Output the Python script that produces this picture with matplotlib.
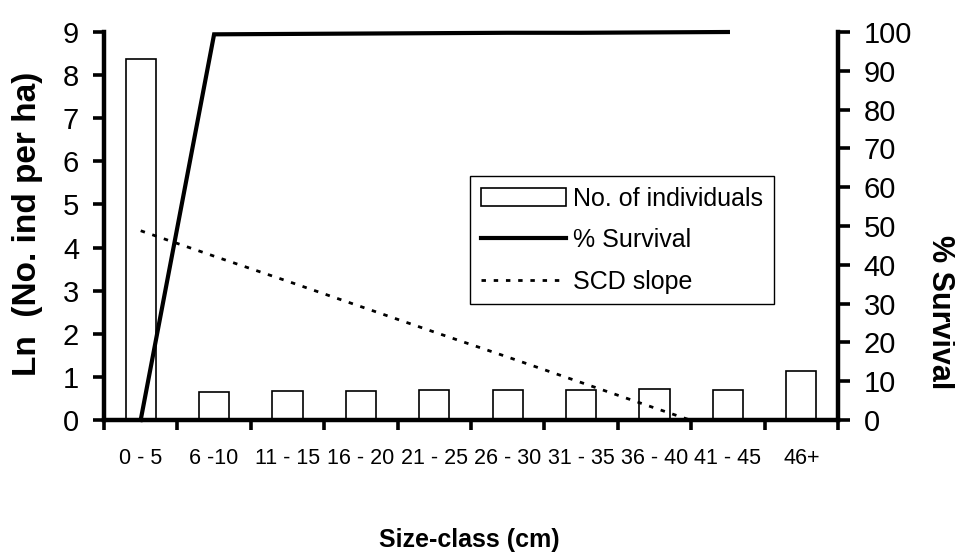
import numpy as np
import matplotlib.pyplot as plt
from matplotlib import rcParams

rcParams['font.family'] = ['Liberation Sans', 'DejaVu Sans']

# Data
size_classes = ["0 - 5", "6 -10", "11 - 15", "16 - 20", "21 - 25",
                "26 - 30", "31 - 35", "36 - 40", "41 - 45", "46+"]
ln_individuals = [8.38, 0.66, 0.67, 0.68, 0.69, 0.70, 0.70, 0.71, 0.70, 1.14]
survival = [0.0, 99.4, 99.5, 99.6, 99.7, 99.8, 99.8, 99.9, 100.0]
scd_slope = [4.39, 3.80, 3.22, 2.63, 2.04, 1.46, 0.87, 0.28, -0.30]

x = np.arange(len(size_classes))

fig = plt.figure(figsize=(9.55, 5.52), dpi=100)
ax = fig.add_axes([104 / 955, 132 / 552, 734 / 955, 388 / 552])
ax2 = ax.twinx()

# bars + slope on the left axis, survival on the right one
bars = ax.bar(x, ln_individuals, width=0.41, color='white',
              edgecolor='black', linewidth=1.2, zorder=2)
slope_line, = ax.plot(x[:len(scd_slope)], scd_slope, color='black',
                      linewidth=2.0, linestyle=(0, (1.6, 2.8)), zorder=3)
surv_line, = ax2.plot(x[:len(survival)], survival, color='black',
                      linewidth=3, solid_joinstyle='miter', clip_on=False)

ax.set_xlim(-0.5, len(size_classes) - 0.5)
ax.set_ylim(0, 9)
ax2.set_ylim(0, 100)

# spines
for a in (ax, ax2):
    a.spines['top'].set_visible(False)
    for s in ('left', 'right', 'bottom'):
        a.spines[s].set_linewidth(3.2)
ax.spines['right'].set_visible(False)
ax2.spines['left'].set_visible(False)
ax2.spines['bottom'].set_visible(False)

# y ticks
ax.set_yticks(range(0, 10))
ax.tick_params(axis='y', length=8, width=2.6, pad=10, labelsize=21)
ax2.set_yticks(range(0, 101, 10))
ax2.tick_params(axis='y', length=8.5, width=2.6, pad=10, labelsize=21)

# x ticks: marks at class boundaries, labels at centres
ax.set_xticks(x)
ax.set_xticklabels(size_classes)
ax.set_xticks(np.arange(-0.5, len(size_classes)), minor=True)
ax.tick_params(axis='x', which='major', length=0, pad=20, labelsize=15.5)
ax.tick_params(axis='x', which='minor', length=7, width=2.6)

# axis titles
fig.text(28 / 955, 1 - 224 / 552, 'Ln  (No. ind per ha)', rotation=90,
         ha='center', va='center', fontsize=24, fontweight='bold')
fig.text(940 / 955, 1 - 312 / 552, '% Survival', rotation=-90,
         ha='center', va='center', fontsize=22, fontweight='bold')
fig.text(469 / 955, 1 - 540 / 552, 'Size-class (cm)',
         ha='center', va='center', fontsize=18, fontweight='bold')

leg = fig.legend([bars, surv_line, slope_line],
                 ['No. of individuals', '% Survival', 'SCD slope'],
                 loc='upper left', bbox_to_anchor=(470 / 955, 1 - 176 / 552),
                 borderaxespad=0, fontsize=18, handlelength=3.4,
                 handletextpad=0.3, labelspacing=0.7, borderpad=0.42,
                 fancybox=False, framealpha=1, edgecolor='black')
leg.get_frame().set_linewidth(1.0)

fig.savefig('out.png', dpi=100)
